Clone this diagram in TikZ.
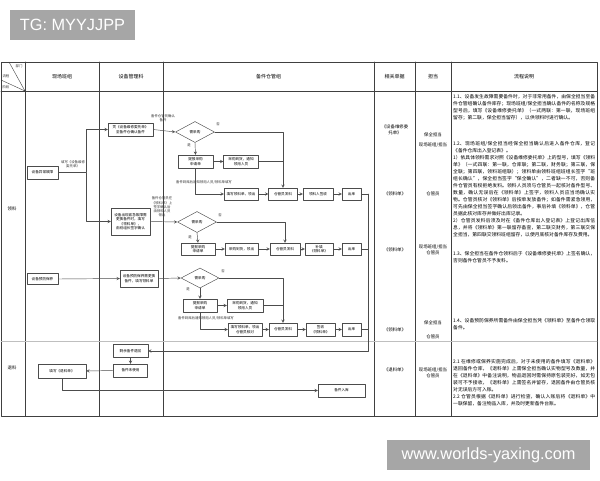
\documentclass[tikz,border=0pt]{standalone}
\usepackage{fontspec}
\setmainfont{Noto Sans CJK SC}
\newfontfamily\wmfont{Liberation Sans}
\usetikzlibrary{shapes.geometric}
\XeTeXlinebreaklocale "zh"
\XeTeXlinebreakskip = 0pt plus 1pt
\definecolor{xamnhat}{HTML}{A6A6A6}
\begin{document}
\begin{tikzpicture}[x=1pt, y=-1pt, line join = round, line cap = round, >=stealth,
  khung/.style={draw=black!75, line width=.6pt},
  mo/.style={draw=black!25, line width=.5pt},
  hop/.style={draw=black!70, fill=white, line width=.45pt, inner sep=.5pt, align=center, font=\fontsize{3.6}{4.4}\selectfont},
  thoi/.style={diamond, draw=black!70, fill=white, line width=.45pt, inner sep=0pt, minimum width=39, minimum height=21, font=\fontsize{3.6}{4.4}\selectfont},
  nhan/.style={inner sep=0pt, align=center, font=\fontsize{3.4}{4.2}\selectfont, text=black!80},
  tieude/.style={inner sep=0pt, font=\fontsize{5}{6}\selectfont},
  cot/.style={inner sep=0pt, align=center, font=\fontsize{4.4}{6}\selectfont},
  giaithich/.style={inner sep=0pt, anchor=north west, text width=142, align=justify, font=\fontsize{4.8}{7}\selectfont},
  noi/.style={draw=black!70, line width=.45pt},
  dau/.style={noi, ->},
  dongdau/.style={fill=xamnhat, text=white, inner sep=0pt, font=\wmfont\fontsize{16.3}{17}\selectfont}]
\useasboundingbox (0,0) rectangle (600,480);
\fill[white] (0,0) rectangle (600,480);
%Vẽ khung bảng
\draw[khung] (1,62) rectangle (597,416);
\draw[khung] (1,91) -- (597,91);
\foreach \x in {25,99,163,374,415,451} \draw[khung] (\x,62) -- (\x,416);
\draw[mo] (1,341) -- (597,341);
\draw[khung, line width=.4pt] (25,91) -- (9,62) (25,91) -- (1,80);
\node[nhan] (obp) at (19,66) {部门};
\node[nhan] (olc) at (6,76) {流程};
\node[nhan] (ogd) at (6,87) {阶段};
\node[tieude] (hbz) at (62,77) {现场班组};
\node[tieude] (hsb) at (131,77) {设备管理科};
\node[tieude] (hck) at (268.5,77) {备件仓管组};
\node[tieude] (hdj) at (394.5,77) {相关单据};
\node[tieude] (hdd) at (433,77) {担当};
\node[tieude] (hsm) at (524,77) {流程说明};
\node[cot] (pll) at (12,209) {领料};
\node[cot] (ptl) at (12,368) {退料};
%Lưu đồ: sửa chữa sự cố
\node[hop, minimum width=31, minimum height=13] (gz) at (42.5,172.5) {设备异常故障};
\node[nhan] (lgz) at (73,164) {填写《设备维修\\委托单》};
\coordinate (j1) at (86,172.5);
\node[hop, minimum width=45, minimum height=13] (wt) at (130.5,129.5) {凭《设备维修委托单》\\至备件仓确认备件};
\node[nhan] (lwt) at (163,118) {备件仓管员确认\\备件};
\node[thoi] (d1) at (195,132) {需采购};
\node[nhan] (d1n) at (218,124) {否};
\node[nhan] (d1y) at (189,145) {是};
\node[hop, minimum width=35, minimum height=13] (n11) at (195.5,161.5) {提报采购\\申请单};
\node[hop, minimum width=35, minimum height=13] (n12) at (241,161.5) {采购到货，通知\\领用人员};
\node[nhan] (l13) at (204,182) {备件到库后通知领用人员/领料单填写};
\node[hop, minimum width=34, minimum height=12] (n13) at (241,194) {填写领料单，领出};
\node[hop, minimum width=29, minimum height=12] (n14) at (283,194) {仓管员发料};
\node[hop, minimum width=30, minimum height=12] (n15) at (318,194) {领料人签收};
\node[hop, minimum width=19, minimum height=12] (n16) at (351.5,194) {出库};
%Lưu đồ: sửa chữa khẩn cấp
\node[hop, minimum width=39, minimum height=27] (n20) at (130.5,221.5) {设备出现紧急故障需\\更换备件时，填写\\《领料单》，\\由班组长签字确认};
\node[nhan] (l20) at (162,207) {备件仓管员在\\《领料单》上\\签字确认后\\由领料人员\\领出};
\node[thoi] (d2) at (197,222) {需采购};
\node[nhan] (d2n) at (220,215) {否};
\node[nhan] (d2y) at (190,237) {是};
\node[hop, minimum width=34, minimum height=12] (n21) at (198,249) {提报采购\\申请单};
\node[hop, minimum width=33, minimum height=12] (n22) at (241.5,249) {采购到货，领出};
\node[hop, minimum width=30, minimum height=12] (n23) at (285,249) {仓管员发料};
\node[hop, minimum width=28, minimum height=12] (n24) at (319,249) {补填\\《领料单》};
\node[hop, minimum width=19, minimum height=12] (n25) at (351.5,249) {出库};
%Lưu đồ: bảo dưỡng dự phòng
\node[hop, minimum width=31, minimum height=11] (bd) at (42.5,279) {设备预防保养};
\node[hop, minimum width=38, minimum height=17] (n30) at (139,278.5) {设备预防保养需更换\\备件，填写领料单};
\node[thoi, minimum width=38, minimum height=20] (d3) at (200,278) {需采购};
\node[nhan] (d3n) at (223,271) {否};
\node[nhan] (d3y) at (188,289) {是};
\node[hop, minimum width=34, minimum height=13] (n31) at (200,305.5) {提报采购\\申请单};
\node[hop, minimum width=36, minimum height=13] (n32) at (245,305.5) {采购到货，通知\\领用人员};
\node[nhan] (l33) at (206,318) {备件到库后通知领用人员/领料单填写};
\node[hop, minimum width=34, minimum height=13] (n33) at (245,329.5) {填写领料单，领出\\仓管员核对};
\node[hop, minimum width=28, minimum height=13] (n34) at (283,329.5) {仓管员发料};
\node[hop, minimum width=29, minimum height=13] (n35) at (320.5,329.5) {签收\\《领料单》};
\node[hop, minimum width=19, minimum height=13] (n36) at (351.5,329.5) {出库};
%Lưu đồ: trả vật tư
\node[hop, minimum width=35, minimum height=13] (r1) at (130.5,351) {剩余备件退回};
\node[hop, minimum width=34, minimum height=13] (r2) at (130.5,370.5) {备件未使用};
\node[hop, minimum width=48, minimum height=14] (r3) at (62,371) {填写《退料单》};
\node[hop, minimum width=47, minimum height=13] (r4) at (341.5,390.5) {备件入库};
\coordinate (t1) at (368,194);
%Vẽ các đường nối
\draw[noi] (gz.east) -- (j1);
\draw[dau] (j1) |- (wt.west);
\draw[dau] (j1) |- (n20.west);
\draw[dau] (wt.east) -- (d1.west);
\draw[dau] (d1.south) -- (n11.north);
\draw[dau] (n11.east) -- (n12.west);
\draw[dau] (d1.east) -| (n14.north);
\draw[noi] (n12.east) -- (n12.east -| n14.north);
\draw[dau] (n11.south) |- (n13.west);
\draw[dau] (n13.east) -- (n14.west);
\draw[dau] (n14.east) -- (n15.west);
\draw[dau] (n15.east) -- (n16.west);
\draw[dau] (n20.east) -- (d2.west);
\draw[dau] (d2.south) -- (n21.north);
\draw[dau] (n21.east) -- (n22.west);
\draw[dau] (n22.east) -- (n23.west);
\draw[dau] (d2.east) -| (n23.north);
\draw[dau] (n23.east) -- (n24.west);
\draw[dau] (n24.east) -- (n25.west);
\draw[dau] (bd.east) -- (n30.west);
\draw[dau] (n30.east) -- (d3.west);
\draw[dau] (d3.south) -- (n31.north);
\draw[dau] (n31.east) -- (n32.west);
\draw[dau] (d3.east) -| (n34.north);
\draw[noi] (n32.east) -- (n32.east -| n34.north);
\draw[dau] (n31.south) |- (n33.west);
\draw[dau] (n33.east) -- (n34.west);
\draw[dau] (n34.east) -- (n35.west);
\draw[dau] (n35.east) -- (n36.west);
\draw[noi] (n16.east) -- (t1);
\draw[noi] (n25.east) -- (n25.east -| t1);
\draw[noi] (n36.east) -- (n36.east -| t1);
\draw[dau] (t1) |- (r1.east);
\draw[dau] (r1.south) -- (r2.north);
\draw[dau] (r2.west) -- (r3.east);
\draw[dau] (r3.south) |- (r4.west);
%Cột đơn từ và người phụ trách
\node[cot] (dj1) at (395,130) {《设备维修委\\托单》};
\node[cot] (dj2) at (395,194) {《领料单》};
\node[cot] (dj3) at (395,250) {《领料单》};
\node[cot] (dj4) at (395,330) {《领料单》};
\node[cot] (dj5) at (395,370) {《退料单》};
\node[cot] (dd1) at (433,135) {保全担当};
\node[cot] (dd2) at (433,145) {现场班组/担当};
\node[cot] (dd3) at (433,194) {仓管员};
\node[cot] (dd4) at (433,250) {现场班组/担当\\仓管员};
\node[cot] (dd5) at (433,323) {保全担当};
\node[cot] (dd6) at (433,337) {仓管员};
\node[cot] (dd7) at (433,373) {现场班组/担当\\仓管员};
%Cột giải thích
\node[giaithich] (sm1) at (453,94) {1.1、设备发生故障需要备件时，对于非常用备件，由保全担当至备件仓管组确认备件库存；现场班组/保全担当确认备件的名称及规格型号后，填写《设备维修委托单》（一式两联：第一联，现场班组留存；第二联，保全担当留存），以供领料时进行确认。};
\node[giaithich] (sm2) at (453,141) {1.2、现场班组/保全担当经保全担当确认后进入备件仓库，登记《备件仓库出入登记表》。\\1）依具体领料需求对照《设备维修委托单》上的型号，填写《领料单》（一式四联：第一联，仓库联；第二联，财务联；第三联，保全联；第四联，领料班组联）；领料单由领料班组班组长签字“班组长确认”，保全担当签字“保全确认”，二者缺一不可，否则备件仓管员有权拒绝发料。领料人员须与仓管员一起核对备件型号、数量，确认无误后在《领料单》上签字，领料人员应当场确认实物。仓管员核对《领料单》后按单发放备件；如备件需紧急领用，可先由保全担当签字确认后领出备件，事后补填《领料单》，仓管员据此核对库存并做好出库记录。\\2）仓管员发料后须及时在《备件仓库出入登记表》上登记出库信息，并将《领料单》第一联留存备查，第二联交财务，第三联交保全担当，第四联交领料班组留存，以便月底核对备件库存及费用。};
\node[giaithich] (sm3) at (453,251) {1.3、保全担当在备件仓领料后于《设备维修委托单》上签名确认，否则备件仓管员不予发料。};
\node[giaithich] (sm4) at (453,318) {1.4、设备预防保养所需备件由保全担当凭《领料单》至备件仓领取备件。};
\node[giaithich] (sm5) at (453,359) {2.1 在维修或保养实施完成后，对于未使用的备件填写《退料单》退回备件仓库，《退料单》上需保全担当确认实物型号及数量，并在《退料单》中备注说明，物品退回时需保持原包装完好，如无包装可不予接收，《退料单》上需签名并留存，退回备件由仓管员核对无误后方可入账。\\2.2 仓管员根据《退料单》进行检查，确认入账后将《退料单》中一联保留，备注物品入库，并及时更新备件台账。};
%Dấu nước
\node[dongdau, minimum width=125, minimum height=30] (wm1) at (72.5,25) {TG: MYYJJPP};
\node[dongdau, minimum width=203, minimum height=30] (wm2) at (488.5,455) {www.worlds-yaxing.com};
\end{tikzpicture}
\end{document}
